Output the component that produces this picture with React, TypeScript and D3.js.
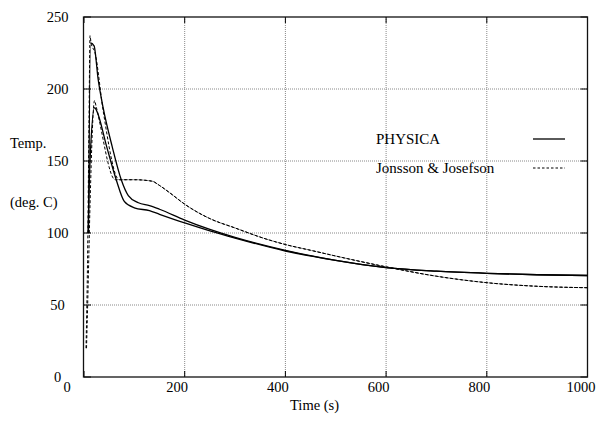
import React from "react";
import * as d3 from "d3";

// ---- data ----
const xTicks = [0, 200, 400, 600, 800, 1000];
const yTicks = [0, 50, 100, 150, 200, 250];

const physicaTimeA = [9, 13, 20, 28, 38, 56, 74, 88, 108, 130, 150, 200, 250, 300, 400, 500, 600, 700, 800, 900, 1000];
const physicaTempA = [100, 232, 230, 207, 187, 160, 137, 126, 121, 119, 116.5, 109, 102.5, 97, 88, 81, 76, 73.5, 72, 71, 70.5];

const physicaTimeB = [8, 12, 21, 25, 45, 64, 80, 100, 130, 150, 200, 250, 300, 400, 500, 600, 700, 800, 900, 1000];
const physicaTempB = [100, 150, 187, 185, 160, 137, 122, 117.5, 115.5, 113, 107, 101.5, 96.5, 87.5, 81, 76, 73.5, 72, 71, 70.5];

const jjTimeC = [4, 7, 10, 12, 14, 22, 38, 70, 100, 135, 150, 170, 200, 250, 300, 360, 400, 450, 500, 600, 700, 800, 900, 1000];
const jjTempC = [20, 80, 180, 237, 232, 225, 185, 137, 137, 136, 133, 128, 120, 110, 103.5, 96, 92, 88, 84, 76.5, 70, 65.5, 63, 62];

const jjTimeD = [5, 8, 12, 21, 24, 62, 100, 135, 150, 170, 200, 250, 300, 360, 400, 450, 500, 600, 700, 800, 900, 1000];
const jjTempD = [20, 60, 120, 192, 188, 137, 137, 136, 133, 128, 120, 110, 103.5, 96, 92, 88, 84, 76.5, 70, 65.5, 63, 62];

const legendLabels = ["PHYSICA", "Jonsson & Josefson"];

// ---- layout ----
const W = 596, H = 421;
const left = 84, right = 587.5, top = 17, bottom = 377;
const font = "'Liberation Serif', 'DejaVu Serif', serif";
const fs = 14.5;

export default function App() {
  const x = d3.scaleLinear().domain([0, 1000]).range([left, right]);
  const y = d3.scaleLinear().domain([0, 250]).range([bottom, top]);
  const line = d3
    .line<[number, number]>()
    .x((d) => x(d[0]))
    .y((d) => y(d[1]))
    .curve(d3.curveMonotoneX);
  const zip = (t: number[], v: number[]) => t.map((tt, i) => [tt, v[i]] as [number, number]);

  const xLabelDx = (v: number) => (v === 0 ? -17 : v === 1000 ? -6.5 : -7.5);

  return (
    <svg width={W} height={H} style={{ position: "absolute", left: 0, top: 0, background: "#fff" }}>
      <rect x={0} y={0} width={W} height={H} fill="#fff" />
      {/* grid */}
      {xTicks.slice(1, -1).map((v) => (
        <line key={"gx" + v} x1={x(v)} x2={x(v)} y1={top} y2={bottom} stroke="#888" strokeWidth={1} strokeDasharray="1,1" />
      ))}
      {yTicks.slice(1, -1).map((v) => (
        <line key={"gy" + v} x1={left} x2={right} y1={y(v)} y2={y(v)} stroke="#888" strokeWidth={1} strokeDasharray="1,1" />
      ))}
      {/* ticks */}
      {xTicks.map((v) => (
        <g key={"tx" + v}>
          <line x1={x(v)} x2={x(v)} y1={bottom} y2={bottom - 6} stroke="#000" />
          <line x1={x(v)} x2={x(v)} y1={top} y2={top + 6} stroke="#000" />
        </g>
      ))}
      {yTicks.map((v) => (
        <g key={"ty" + v}>
          <line x1={left} x2={left + 7} y1={y(v)} y2={y(v)} stroke="#000" />
          <line x1={right} x2={right - 7} y1={y(v)} y2={y(v)} stroke="#000" />
        </g>
      ))}
      {/* frame */}
      <rect x={left - 0.5} y={top} width={right - left + 0.5} height={bottom - top} fill="none" stroke="#111" strokeWidth={1.3} />
      {/* tick labels */}
      {yTicks.map((v) => (
        <text key={"ly" + v} x={57.5} y={y(v)} dy="0.33em" textAnchor="middle" fontFamily={font} fontSize={fs} fill="#000">
          {v}
        </text>
      ))}
      {xTicks.map((v) => (
        <text key={"lx" + v} x={x(v) + xLabelDx(v)} y={392} textAnchor="middle" fontFamily={font} fontSize={fs} fill="#000">
          {v}
        </text>
      ))}
      {/* axis labels */}
      <text x={290} y={410} fontFamily={font} fontSize={fs} fill="#000">Time (s)</text>
      <text x={10} y={148} fontFamily={font} fontSize={fs} fill="#000">Temp.</text>
      <text x={10} y={207} fontFamily={font} fontSize={fs} fill="#000">(deg. C)</text>
      {/* curves */}
      <path d={line(zip(physicaTimeA, physicaTempA)) || ""} fill="none" stroke="#000" strokeWidth={1.3} />
      <path d={line(zip(physicaTimeB, physicaTempB)) || ""} fill="none" stroke="#000" strokeWidth={1.3} />
      <path d={line(zip(jjTimeC, jjTempC)) || ""} fill="none" stroke="#000" strokeWidth={1} strokeDasharray="3,2" />
      <path d={line(zip(jjTimeD, jjTempD)) || ""} fill="none" stroke="#000" strokeWidth={1} strokeDasharray="3,2" />
      {/* legend */}
      <text x={376} y={144} fontFamily={font} fontSize={fs + 0.5} fill="#000">{legendLabels[0]}</text>
      <line x1={533} x2={565} y1={139} y2={139} stroke="#000" strokeWidth={1.3} />
      <text x={376} y={173} fontFamily={font} fontSize={fs + 0.5} fill="#000">{legendLabels[1]}</text>
      <line x1={533} x2={565} y1={168} y2={168} stroke="#000" strokeWidth={1} strokeDasharray="2.5,2" />
    </svg>
  );
}
